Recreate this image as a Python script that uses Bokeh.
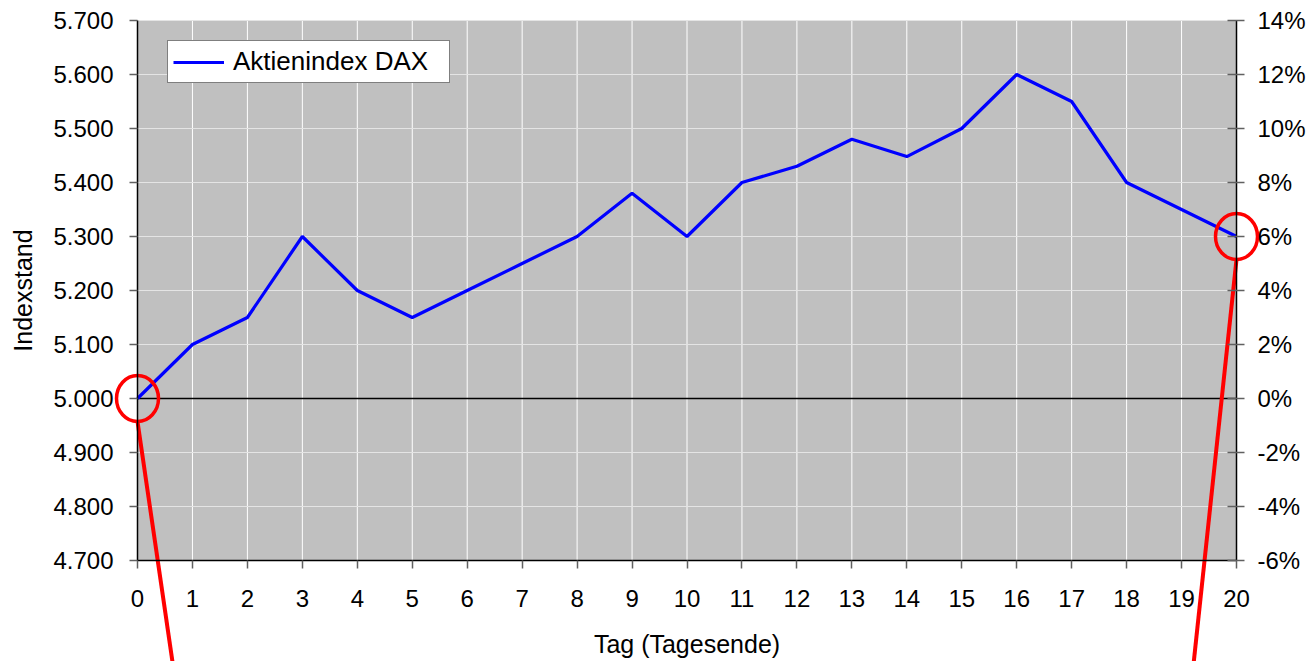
from bokeh.plotting import figure
from bokeh.models import (Range1d, LinearAxis, FixedTicker, Legend, LegendItem,
                          BoxAnnotation)
from bokeh.embed import file_html
from bokeh.resources import INLINE

# ---- data ----
days = list(range(0, 21))
dax = [5000, 5100, 5150, 5300, 5200, 5150, 5200, 5250, 5300, 5380, 5300,
       5400, 5430, 5480, 5448, 5500, 5600, 5550, 5400, 5350, 5300]
y_ticks = [4700, 4800, 4900, 5000, 5100, 5200, 5300, 5400, 5500, 5600, 5700]
y_labels = ["4.700", "4.800", "4.900", "5.000", "5.100", "5.200", "5.300",
            "5.400", "5.500", "5.600", "5.700"]
pct_ticks = [-6, -4, -2, 0, 2, 4, 6, 8, 10, 12, 14]
pct_labels = ["-6%", "-4%", "-2%", "0%", "2%", "4%", "6%", "8%", "10%", "12%", "14%"]
series_name = "Aktienindex DAX"
base_value = 5000
y_min, y_max = 4700, 5700
# callout lines: where the red lines leave the picture (day, index value)
callout_ends_x = [0.64, 19.22]
callout_ends_y = [4510, 4510]

FONT = "Liberation Sans"

# ---- layout (canvas px) ----
W, H = 1312, 661
PL, PR, PT, PB = 137, 1236, 20, 560
dx = (days[-1] - days[0]) / (PR - PL)
dy = (y_max - y_min) / (PB - PT)
x_rng = Range1d(days[0] - PL * dx, days[-1] + (W - PR) * dx)
y_rng = Range1d(y_min - (H - PB) * dy, y_max + PT * dy)


def to_pct(v):
    return (v - base_value) / base_value * 100


p = figure(width=W, height=H, output_backend="svg", toolbar_location=None,
           x_range=x_rng, y_range=y_rng, x_axis_location=None, y_axis_location=None,
           min_border=0, min_border_left=0, min_border_right=0, min_border_top=0,
           min_border_bottom=0)
p.background_fill_color = "white"
p.border_fill_color = "white"
p.outline_line_color = None
p.grid.visible = False
p.extra_y_ranges = {"pct": Range1d(to_pct(y_rng.start), to_pct(y_rng.end))}

# plot area background
p.add_layout(BoxAnnotation(left=days[0], right=days[-1], bottom=y_min, top=y_max,
                           fill_color="#C0C0C0", fill_alpha=1,
                           line_color="#8a8a8a", line_width=1, level="underlay"))

# grid lines (restricted to plot area)
p.segment(x0=days, y0=[y_min] * len(days), x1=days, y1=[y_max] * len(days),
          line_color="white", line_width=1)
p.segment(x0=[days[0]] * len(y_ticks), y0=y_ticks, x1=[days[-1]] * len(y_ticks),
          y1=y_ticks, line_color="#e4e4e4", line_width=1)
# zero line
p.segment(x0=[days[0]], y0=[base_value], x1=[days[-1]], y1=[base_value],
          line_color="black", line_width=1.5)

# axes
xa = LinearAxis(fixed_location=y_min, bounds=(days[0], days[-1]),
                ticker=FixedTicker(ticks=days), axis_label="Tag (Tagesende)")
ya = LinearAxis(fixed_location=days[0], bounds=(y_min, y_max),
                ticker=FixedTicker(ticks=y_ticks), axis_label="Indexstand")
ya.major_label_overrides = {t: l for t, l in zip(y_ticks, y_labels)}
ra = LinearAxis(y_range_name="pct", fixed_location=days[-1],
                bounds=(pct_ticks[0], pct_ticks[-1]), ticker=FixedTicker(ticks=pct_ticks))
ra.major_label_overrides = {t: l for t, l in zip(pct_ticks, pct_labels)}
p.add_layout(xa, "below")
p.add_layout(ya, "left")
p.add_layout(ra, "right")

for ax in (xa, ya, ra):
    ax.axis_line_color = "black"
    ax.axis_line_width = 1.5
    ax.major_tick_line_color = "#606060"
    ax.major_tick_line_width = 1.5
    ax.minor_tick_line_color = None
    ax.major_label_text_font = FONT
    ax.major_label_text_font_size = "24px"
    ax.major_label_text_color = "black"
    ax.axis_label_text_font = FONT
    ax.axis_label_text_font_size = "25px"
    ax.axis_label_text_font_style = "normal"
    ax.axis_label_text_color = "black"
xa.major_tick_in = 0
xa.major_tick_out = 8
xa.major_label_standoff = 21
xa.axis_label_standoff = 20
ya.major_tick_in = 0
ya.major_tick_out = 8
ya.major_label_standoff = 16
ya.axis_label_standoff = 13
ra.major_tick_in = 9
ra.major_tick_out = 8
ra.major_label_standoff = 13

# series
r = p.line(days, dax, line_color="#0000FF", line_width=3.2)

# red callouts: circles round the first and last value, lines leaving the chart
cx = [days[0], days[-1]]
cy = [dax[0], dax[-1]]
p.ellipse(x=cx, y=cy, width=42, height=46, width_units="screen", height_units="screen",
          fill_alpha=0, line_color="#FF0000", line_width=3.5)
p.segment(x0=cx, y0=[v - 23 * dy for v in cy], x1=callout_ends_x, y1=callout_ends_y,
          line_color="#FF0000", line_width=4)

legend = Legend(items=[LegendItem(label=series_name, renderers=[r])],
                location=(167, H - 83), border_line_color="black", border_line_width=1,
                background_fill_color="white", background_fill_alpha=1,
                label_text_font=FONT, label_text_font_size="26px",
                label_text_color="black",
                glyph_width=51, glyph_height=20, label_standoff=9,
                padding=5, margin=0, spacing=0, label_width=211, label_height=22)
p.add_layout(legend, "center")

open("out.html", "w").write(file_html(p, INLINE))
